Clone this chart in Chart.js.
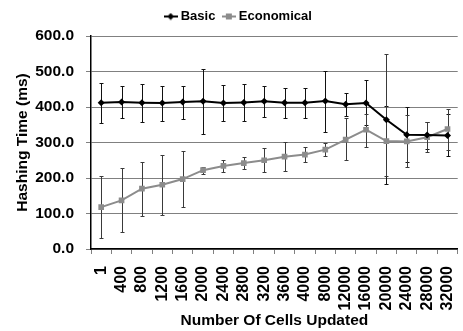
<!DOCTYPE html>
<html>
<head>
<meta charset="utf-8">
<script src="https://cdn.jsdelivr.net/npm/chart.js@4/dist/chart.umd.min.js"></script>
<style>
    html, body { margin: 0; padding: 0; background: #fff; overflow: hidden; }
    #wrap { width: 479px; height: 331px; }
</style>
</head>
<body>
<div id="wrap"><canvas id="chart" width="479" height="331"></canvas></div>
<script>
const cells = ['1','400','800','1200','1600','2000','2400','2800','3200','3600','4000',
               '8000','12000','16000','20000','24000','28000','32000'];

// hashing time in ms
const basicTime = [412, 414, 412, 411, 414, 416, 411, 413, 416, 412, 412, 417, 408, 411, 364, 322, 321, 320];
const basicHigh = [468, 459, 464, 459, 459, 506, 461, 464, 460, 453, 454, 501, 440, 477, 403, 399, 359, 380];
const basicLow  = [355, 368, 358, 360, 366, 325, 360, 360, 372, 369, 369, 329, 376, 350, 182, 245, 283, 262];

const econTime = [118, 137, 170, 181, 197, 222, 234, 242, 250, 260, 266, 280, 308, 336, 304, 303, 315, 338];
const econHigh = [206, 227, 246, 265, 277, 231, 251, 259, 284, 302, 288, 300, 368, 381, 548, 377, 358, 393];
const econLow  = [ 31,  47,  94,  97, 119, 210, 218, 224, 218, 221, 246, 261, 252, 288, 205, 231, 273, 280];

const yTicks = [0, 100, 200, 300, 400, 500, 600];

const FONT = "'Liberation Sans', Arial, sans-serif";

// little legend icon: line with marker in the middle
function legendIcon(color, shape) {
    const c = document.createElement('canvas');
    c.width = 14; c.height = 8;
    const g = c.getContext('2d');
    g.strokeStyle = color;
    g.lineWidth = 2;
    g.beginPath(); g.moveTo(0, 4); g.lineTo(14, 4); g.stroke();
    g.fillStyle = color;
    if (shape === 'diamond') {
        g.beginPath(); g.moveTo(7, 0.5); g.lineTo(10.5, 4); g.lineTo(7, 7.5); g.lineTo(3.5, 4); g.closePath(); g.fill();
    } else {
        g.fillRect(4, 1, 6, 6);
    }
    return c;
}

const errorBars = {
    id: 'errorBars',
    beforeDatasetsDraw(chart) {
        const ctx = chart.ctx;
        const y = chart.scales.y;
        chart.data.datasets.forEach((ds, i) => {
            const meta = chart.getDatasetMeta(i);
            ctx.save();
            ctx.strokeStyle = ds.errColor;
            ctx.lineWidth = 1;
            meta.data.forEach((pt, j) => {
                const x = Math.round(pt.x) + 0.5;
                const top = Math.round(y.getPixelForValue(ds.errHigh[j])) + 0.5;
                const bot = Math.round(y.getPixelForValue(ds.errLow[j])) + 0.5;
                ctx.beginPath();
                ctx.moveTo(x, top); ctx.lineTo(x, bot);
                ctx.moveTo(x - 2, top); ctx.lineTo(x + 2, top);
                ctx.moveTo(x - 2, bot); ctx.lineTo(x + 2, bot);
                ctx.stroke();
            });
            ctx.restore();
        });
    }
};

// a bit more room between legend and plot
const legendGap = {
    id: 'legendGap',
    beforeInit(chart) {
        const fit = chart.legend.fit;
        chart.legend.fit = function() {
            fit.call(this);
            this.height += 3;
        };
    }
};

const chart = new Chart(document.getElementById('chart'), {
    type: 'line',
    data: {
        labels: cells,
        datasets: [
            {
                label: 'Basic',
                data: basicTime,
                errHigh: basicHigh,
                errLow: basicLow,
                errColor: '#111',
                borderColor: '#000',
                backgroundColor: '#000',
                borderWidth: 2,
                pointStyle: 'rectRot',
                pointRadius: 3.5,
                pointBorderWidth: 0,
                tension: 0,
                legendIcon: legendIcon('#000', 'diamond')
            },
            {
                label: 'Economical',
                data: econTime,
                errHigh: econHigh,
                errLow: econLow,
                errColor: '#3a3a3a',
                borderColor: '#8c8c8c',
                backgroundColor: '#8c8c8c',
                borderWidth: 2,
                pointStyle: 'rect',
                pointRadius: 4,
                pointBorderWidth: 0,
                tension: 0,
                legendIcon: legendIcon('#8c8c8c', 'square')
            }
        ]
    },
    options: {
        responsive: false,
        animation: false,
        layout: { padding: { top: 0, right: 10, left: 10, bottom: 0 } },
        plugins: {
            legend: {
                position: 'top',
                labels: {
                    usePointStyle: true,
                    pointStyleWidth: 7,
                    color: '#000',
                    padding: 10,
                    font: { family: FONT, size: 13, weight: 'bold' },
                    generateLabels(ch) {
                        return ch.data.datasets.map((ds, i) => ({
                            text: ds.label,
                            pointStyle: ds.legendIcon,
                            fillStyle: ds.borderColor,
                            strokeStyle: ds.borderColor,
                            lineWidth: 0,
                            fontColor: '#000',
                            datasetIndex: i,
                            hidden: false
                        }));
                    }
                }
            },
            tooltip: { enabled: false }
        },
        scales: {
            x: {
                offset: true,
                border: { color: '#000', width: 1.5 },
                grid: {
                    offset: true,
                    drawOnChartArea: false,
                    tickLength: 5,
                    tickColor: '#808080'
                },
                ticks: {
                    color: '#000',
                    minRotation: 90,
                    maxRotation: 90,
                    autoSkip: false,
                    padding: 12,
                    font: { family: FONT, size: 16, weight: 'bold' }
                },
                title: {
                    display: true,
                    text: 'Number Of Cells Updated',
                    color: '#000',
                    padding: { top: 0, bottom: 1 },
                    font: { family: FONT, size: 15.5, weight: 'bold' }
                },
                afterFit(s) { s.height = 82; }
            },
            y: {
                min: 0,
                max: 600,
                afterBuildTicks(s) { s.ticks = yTicks.map(v => ({ value: v })); },
                border: { color: '#000', width: 1.5 },
                grid: {
                    color: '#808080',
                    lineWidth: 1,
                    tickLength: 5,
                    tickColor: '#808080'
                },
                ticks: {
                    color: '#000',
                    padding: 12,
                    font: { family: FONT, size: 15.5, weight: 'bold' },
                    callback: v => v.toFixed(1)
                },
                title: {
                    display: true,
                    text: 'Hashing Time (ms)',
                    color: '#000',
                    padding: { top: 3, bottom: 0 },
                    font: { family: FONT, size: 15.5, weight: 'bold' }
                },
                afterFit(s) { s.width = 81; }
            }
        }
    },
    plugins: [errorBars, legendGap]
});
</script>
</body>
</html>
